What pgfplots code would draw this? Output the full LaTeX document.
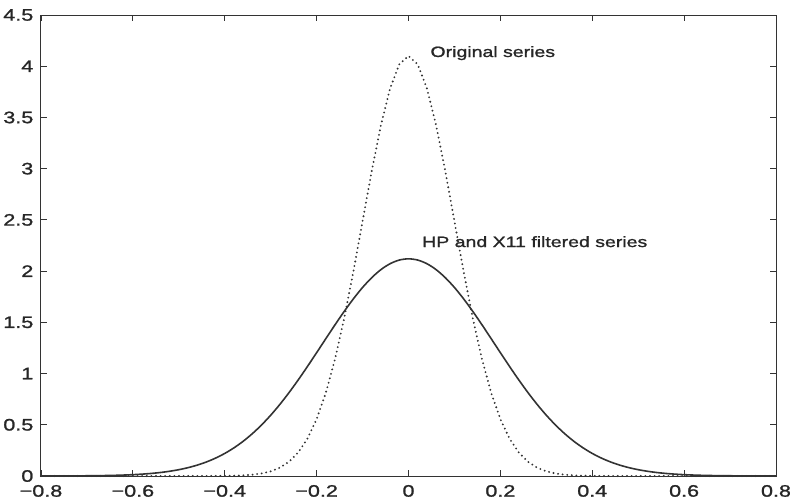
\documentclass[border=0pt]{standalone}
\usepackage{fontspec}
\setmainfont{Liberation Sans}[FakeStretch=1.3, FakeBold=1.2]
\usepackage{pgfplots}
\pgfplotsset{compat=1.18}

\begin{document}
\begin{tikzpicture}
\begin{axis}[
    scale only axis,
    width=367.5pt, height=230.5pt,
    xmin=-0.8, xmax=0.8,
    ymin=0, ymax=4.5,
    xtick={-0.8,-0.6,...,0.8},
    xticklabels={−0.8,−0.6,−0.4,−0.2,0,0.2,0.4,0.6,0.8},
    ytick={0,0.5,...,4.5},
    tick align=inside,
    major tick length=3pt,
    axis line style={black!80, line width=0.5pt},
    every tick/.style={black!80, line width=0.4pt},
    tick label style={font=\fontsize{8.3}{9}\selectfont, text=black!85},
    /pgf/number format/assume math mode=true,
    xticklabel style={yshift=-1pt},
    yticklabel style={xshift=-0.3pt},
    clip=false,
]
\coordinate (sw) at (rel axis cs:0,0);
\coordinate (ne) at (rel axis cs:1,1);

% original series
\addplot[black!80, line width=1.05pt, line cap=round, dash pattern=on 0pt off 2.3pt] coordinates {
(-0.80,0) (-0.60,0) (-0.50,0) (-0.46,0.0001) (-0.44,0.0002) (-0.42,0.0006)
(-0.40,0.0014) (-0.38,0.0030) (-0.36,0.0063) (-0.34,0.0127) (-0.32,0.0245)
(-0.30,0.0455) (-0.28,0.0813) (-0.26,0.1396) (-0.24,0.2301) (-0.22,0.3646)
(-0.20,0.5549) (-0.18,0.8114) (-0.16,1.1400) (-0.14,1.5388) (-0.12,1.9957)
(-0.10,2.4868) (-0.08,2.9772) (-0.06,3.4246) (-0.04,3.7848) (-0.02,4.0188)
(0.00,4.1000)
(0.02,4.0188) (0.04,3.7848) (0.06,3.4246) (0.08,2.9772) (0.10,2.4868)
(0.12,1.9957) (0.14,1.5388) (0.16,1.1400) (0.18,0.8114) (0.20,0.5549)
(0.22,0.3646) (0.24,0.2301) (0.26,0.1396) (0.28,0.0813) (0.30,0.0455)
(0.32,0.0245) (0.34,0.0127) (0.36,0.0063) (0.38,0.0030) (0.40,0.0014)
(0.42,0.0006) (0.44,0.0002) (0.46,0.0001) (0.50,0) (0.60,0) (0.80,0)
};

% HP and X11 filtered series
\addplot[black!80, line width=0.8pt, smooth] coordinates {
(-0.80,0.0002) (-0.78,0.0004) (-0.76,0.0006) (-0.74,0.0009) (-0.72,0.0014)
(-0.70,0.0021) (-0.68,0.0031) (-0.66,0.0045) (-0.64,0.0064) (-0.62,0.0092)
(-0.60,0.0130) (-0.58,0.0182) (-0.56,0.0251) (-0.54,0.0342) (-0.52,0.0462)
(-0.50,0.0617) (-0.48,0.0814) (-0.46,0.1061) (-0.44,0.1370) (-0.42,0.1747)
(-0.40,0.2203) (-0.38,0.2748) (-0.36,0.3387) (-0.34,0.4130) (-0.32,0.4978)
(-0.30,0.5933) (-0.28,0.6991) (-0.26,0.8145) (-0.24,0.9384) (-0.22,1.0688)
(-0.20,1.2037) (-0.18,1.3403) (-0.16,1.4758) (-0.14,1.6065) (-0.12,1.7292)
(-0.10,1.8403) (-0.08,1.9364) (-0.06,2.0147) (-0.04,2.0725) (-0.02,2.1080)
(0.00,2.1200)
(0.02,2.1080) (0.04,2.0725) (0.06,2.0147) (0.08,1.9364) (0.10,1.8403)
(0.12,1.7292) (0.14,1.6065) (0.16,1.4758) (0.18,1.3403) (0.20,1.2037)
(0.22,1.0688) (0.24,0.9384) (0.26,0.8145) (0.28,0.6991) (0.30,0.5933)
(0.32,0.4978) (0.34,0.4130) (0.36,0.3387) (0.38,0.2748) (0.40,0.2203)
(0.42,0.1747) (0.44,0.1370) (0.46,0.1061) (0.48,0.0814) (0.50,0.0617)
(0.52,0.0462) (0.54,0.0342) (0.56,0.0251) (0.58,0.0182) (0.60,0.0130)
(0.62,0.0092) (0.64,0.0064) (0.66,0.0045) (0.68,0.0031) (0.70,0.0021)
(0.72,0.0014) (0.74,0.0009) (0.76,0.0006) (0.78,0.0004) (0.80,0.0002)
};

\node[anchor=base west, inner sep=0pt, font=\fontsize{7.5}{8}\selectfont, text=black!85]
    at (axis cs:0.047,4.09) {Original series};
\node[anchor=base west, inner sep=0pt, font=\fontsize{7.5}{8}\selectfont, text=black!85]
    at (axis cs:0.029,2.235) {HP and X11 filtered series};
\end{axis}
\pgfresetboundingbox
\path ([shift={(-20.5pt,-12pt)}]sw) rectangle ([shift={(7pt,7.5pt)}]ne);
\end{tikzpicture}
\end{document}
